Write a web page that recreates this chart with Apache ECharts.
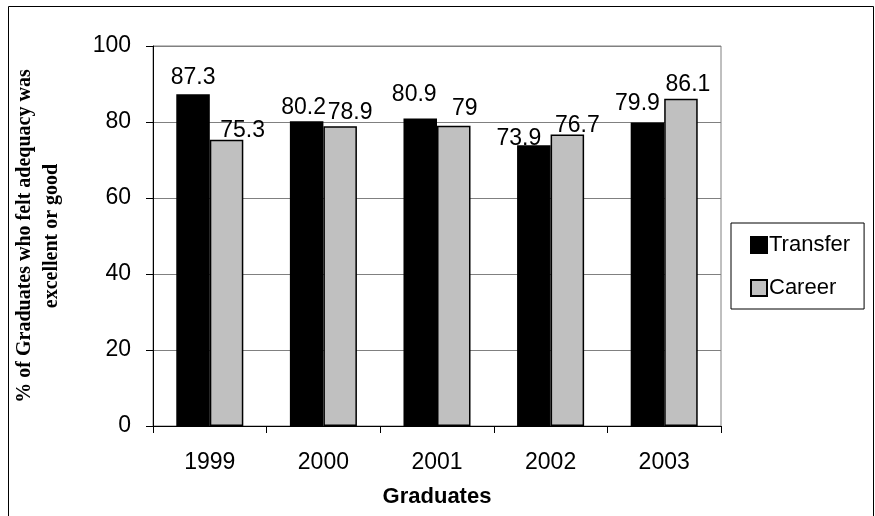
<!DOCTYPE html>
<html>
<head>
<meta charset="utf-8">
<script src="https://cdn.jsdelivr.net/npm/echarts@6/dist/echarts.min.js"></script>
<style>
  html, body { margin: 0; padding: 0; background: #ffffff; }
  #chart { width: 875px; height: 516px; }
</style>
</head>
<body>
<div id="chart"></div>
<script>
// Survey results by graduating class
const years = ['1999', '2000', '2001', '2002', '2003'];
const transfer = [87.3, 80.2, 80.9, 73.9, 79.9];
const career = [75.3, 78.9, 79, 76.7, 86.1];
const yMin = 0, yMax = 100, yStep = 20;

// Hand-placed nudges for the value labels so neighbours don't collide
const transferLabelShift = [[0, 0], [-3, 3], [-6, -7], [-15, 10], [-10, -2]];
const careerLabelShift = [[16, 7], [10, 3], [11, -1], [10, 8], [7, 2]];

const SANS = "'Liberation Sans', Arial, sans-serif";
const SERIF = "'Liberation Serif', 'Times New Roman', serif";

function withLabels(values, shifts) {
  return values.map((v, i) => ({
    value: v,
    label: { offset: shifts[i] }
  }));
}

const chart = echarts.init(document.getElementById('chart'), null, { renderer: 'canvas' });

const labelStyle = {
  show: true,
  position: 'top',
  distance: 5,
  color: '#000',
  fontFamily: SANS,
  fontSize: 23
};

chart.setOption({
  animation: false,
  backgroundColor: '#ffffff',
  grid: {
    left: 153, right: 154, top: 46, bottom: 90,
    show: true, borderColor: '#808080', borderWidth: 1,
    containLabel: false, outerBoundsMode: 'none'
  },
  legend: {
    orient: 'vertical',
    left: 731, top: 223,
    padding: [11, 14, 10, 19],
    itemGap: 21,
    itemWidth: 16, itemHeight: 16,
    borderColor: '#000', borderWidth: 1,
    backgroundColor: '#fff',
    icon: 'rect',
    textStyle: { fontFamily: SANS, fontSize: 22, color: '#000', padding: [0, 0, 0, -3] },
    data: ['Transfer', 'Career']
  },
  xAxis: {
    type: 'category',
    data: years,
    name: 'Graduates',
    nameLocation: 'middle',
    nameGap: 60,
    nameTextStyle: { fontFamily: SANS, fontSize: 22, fontWeight: 'bold', color: '#000' },
    axisLine: { lineStyle: { color: '#000', width: 1 } },
    axisTick: { show: true, alignWithLabel: false, length: 7, lineStyle: { color: '#000' } },
    axisLabel: { margin: 25, fontFamily: SANS, fontSize: 23, color: '#000' },
    splitLine: { show: false }
  },
  yAxis: {
    type: 'value',
    min: yMin, max: yMax, interval: yStep,
    axisLine: { show: true, lineStyle: { color: '#000', width: 1 } },
    axisTick: { show: true, length: 7, lineStyle: { color: '#000' } },
    axisLabel: { margin: 22, fontFamily: SANS, fontSize: 23, color: '#000' },
    splitLine: { show: true, lineStyle: { color: '#808080', width: 1 } }
  },
  graphic: [
    {
      type: 'rect',
      silent: true,
      shape: { x: 8.5, y: 6.5, width: 865, height: 530 },
      style: { fill: 'none', stroke: '#000', lineWidth: 1 },
      z: 100
    },
    {
      type: 'text',
      silent: true,
      x: 38, y: 236,
      rotation: Math.PI / 2,
      style: {
        text: '% of Graduates who felt adequacy was\nexcellent or good',
        fontFamily: SERIF,
        fontSize: 20,
        fontWeight: 'bold',
        lineHeight: 27,
        fill: '#000',
        align: 'center',
        verticalAlign: 'middle'
      }
    }
  ],
  series: [
    {
      name: 'Transfer',
      type: 'bar',
      data: withLabels(transfer, transferLabelShift),
      barGap: '0%',
      barCategoryGap: '41%',
      itemStyle: { color: '#000000', borderColor: '#000', borderWidth: 1.5 },
      label: labelStyle
    },
    {
      name: 'Career',
      type: 'bar',
      data: withLabels(career, careerLabelShift),
      itemStyle: { color: '#c0c0c0', borderColor: '#000', borderWidth: 1.5 },
      label: labelStyle
    }
  ]
});
</script>
</body>
</html>
